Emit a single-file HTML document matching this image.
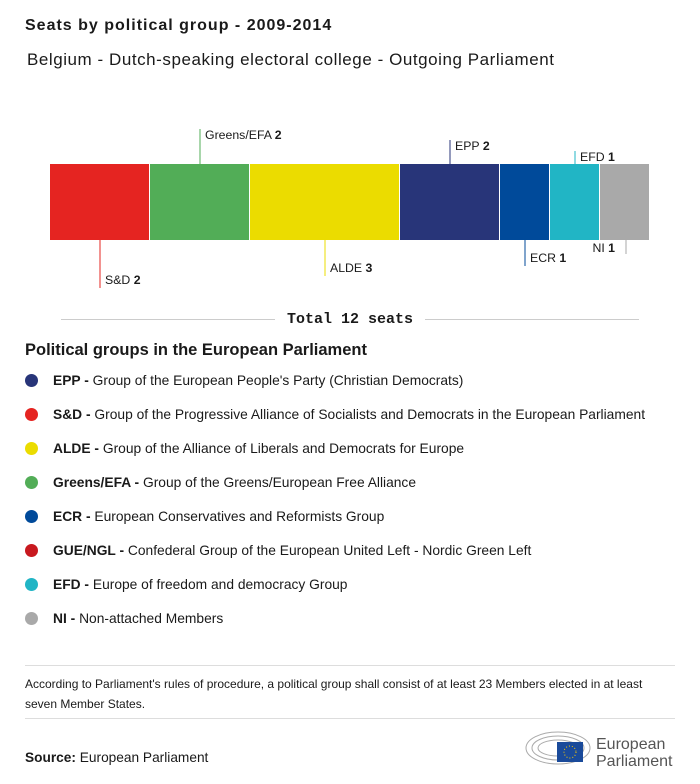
<!DOCTYPE html>
<html><head><meta charset="utf-8"><style>
body{margin:0;width:700px;height:784px;background:#fff;font-family:"Liberation Sans",sans-serif;color:#1a1a1a;position:relative;overflow:hidden}
.a{position:absolute;white-space:nowrap}
.leg{position:absolute;left:25px;font-size:13.8px;display:flex;align-items:center}
.dot{width:13px;height:13px;border-radius:50%;margin-right:15px}
</style></head><body>
<div class="a" style="left:25px;top:17px;font-size:16px;font-weight:bold;letter-spacing:1px">Seats by political group - 2009-2014</div>
<div class="a" style="left:27px;top:50px;font-size:17px;letter-spacing:0.55px">Belgium - Dutch-speaking electoral college - Outgoing Parliament</div>
<svg id="chart" width="700" height="340" style="position:absolute;left:0;top:0"></svg>
<div class="a" style="left:0;width:700px;top:311px;text-align:center;font-family:'Liberation Mono',monospace;font-weight:bold;font-size:15px"><span style="display:inline-block;width:214px;height:1px;background:#ccc;vertical-align:middle;margin-right:12px"></span>Total 12 seats<span style="display:inline-block;width:214px;height:1px;background:#ccc;vertical-align:middle;margin-left:12px"></span></div>
<div class="a" style="left:25px;top:341px;font-size:16.5px;font-weight:bold">Political groups in the European Parliament</div>
<div id="legend"></div>
<div class="a" style="left:25px;top:665px;width:650px;height:1px;background:#ddd"></div>
<div class="a" style="left:25px;top:674px;font-size:12px;line-height:20px;white-space:normal;width:640px">According to Parliament's rules of procedure, a political group shall consist of at least 23 Members elected in at least seven Member States.</div>
<div class="a" style="left:25px;top:718px;width:650px;height:1px;background:#ddd"></div>
<div class="a" style="left:25px;top:750px;font-size:13.7px"><b>Source:</b> European Parliament</div>
<svg class="a" style="left:522px;top:728px" width="160" height="40">
<g fill="none" stroke="#aaa" stroke-width="1"><ellipse cx="36" cy="20" rx="32" ry="16"/><ellipse cx="36" cy="20" rx="26" ry="12"/><ellipse cx="36" cy="20" rx="20" ry="8"/></g>
<rect x="35" y="14" width="26" height="20" fill="#1a4a9a"/><circle cx="48" cy="24" r="6" fill="none" stroke="#fc0" stroke-dasharray="1 2"/>
<text x="74" y="21" font-size="16" fill="#555" font-family="Liberation Sans">European</text>
<text x="74" y="38" font-size="16" fill="#555" font-family="Liberation Sans">Parliament</text></svg>
<script>
const groups=["S&D","Greens/EFA","ALDE","EPP","ECR","EFD","NI"];
const seats=[2,2,3,2,1,1,1];
const colors=["#e52421","#52ad57","#ebdc00","#283579","#004a9a","#21b5c5","#a9a9a9"];
const labelUp=[false,true,false,true,false,true,false];
const lineLen=[48,35,36,24,26,13,14];
const svg=document.getElementById('chart');const NS="http://www.w3.org/2000/svg";
const total=seats.reduce((a,b)=>a+b,0);const x0=50,w=600,y0=164,h=76;
const sx=v=>x0+v*w/total;
let cum=0;
seats.forEach((s,i)=>{
 const r=document.createElementNS(NS,'rect');
 
 
 r.setAttribute('x',sx(cum));r.setAttribute('y',y0);r.setAttribute('width',sx(cum+s)-sx(cum)-1);r.setAttribute('height',h);r.setAttribute('fill',colors[i]);svg.appendChild(r);
 const cx=(sx(cum)+sx(cum+s))/2+(i==6?1:0);
 const l=document.createElementNS(NS,'line');
 
 
 const ye=labelUp[i]?y0-lineLen[i]:y0+h+lineLen[i];
 l.setAttribute('x1',cx);l.setAttribute('x2',cx);l.setAttribute('y1',labelUp[i]?y0:y0+h);l.setAttribute('y2',ye);l.setAttribute('stroke',colors[i]);svg.appendChild(l);
 const t=document.createElementNS(NS,'text');
 
 
 t.setAttribute('font-size','12.3');t.setAttribute('font-family','Liberation Sans');t.setAttribute('fill','#1a1a1a');
 if(i==6){t.setAttribute('x',cx-11);t.setAttribute('text-anchor','end');t.setAttribute('y',y0+h+12);}
 else{t.setAttribute('x',cx+5);t.setAttribute('y',labelUp[i]?ye+10:ye-4);}
 t.innerHTML=groups[i].replace('&','&amp;')+' <tspan font-weight="bold">'+s+'</tspan>';svg.appendChild(t);
 cum+=s;});
const legNames=["EPP","S&D","ALDE","Greens/EFA","ECR","GUE/NGL","EFD","NI"];
const legDesc=["Group of the European People's Party (Christian Democrats)","Group of the Progressive Alliance of Socialists and Democrats in the European Parliament","Group of the Alliance of Liberals and Democrats for Europe","Group of the Greens/European Free Alliance","European Conservatives and Reformists Group","Confederal Group of the European United Left - Nordic Green Left","Europe of freedom and democracy Group","Non-attached Members"];
const legColors=["#283579","#e52421","#ebdc00","#52ad57","#004a9a","#c8191f","#21b5c5","#a9a9a9"];
const lg=document.getElementById('legend');
legNames.forEach((n,i)=>{const d=document.createElement('div');d.className='leg';
 
 
 d.style.top=(373+i*34)+'px';
 d.innerHTML='<span class="dot" style="background:'+legColors[i]+'"></span><span><b>'+n.replace('&','&amp;')+' -</b> '+legDesc[i]+'</span>';lg.appendChild(d);});
</script>
</body></html>
